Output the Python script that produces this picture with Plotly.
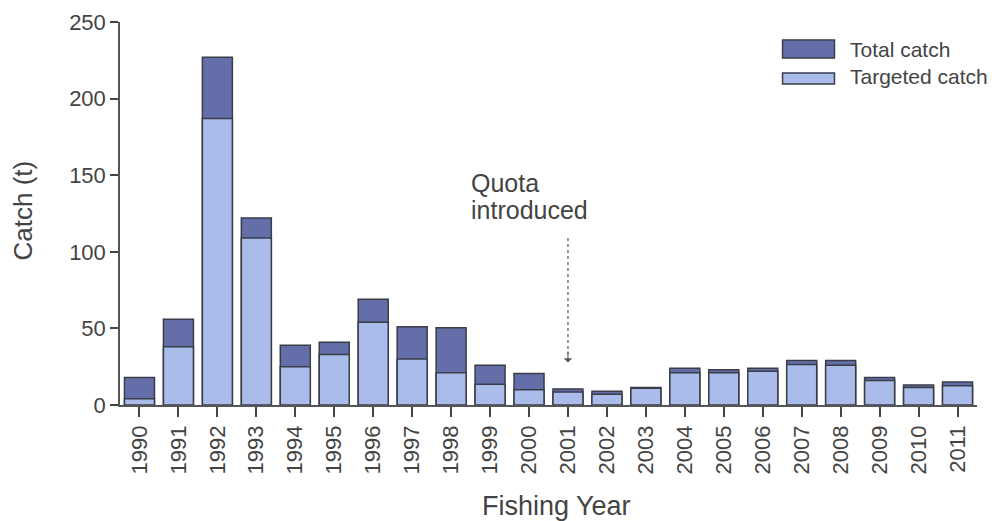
import plotly.graph_objects as go

years = [str(y) for y in range(1990, 2012)]
total_catch = [18, 56, 227, 122, 39, 41, 69, 51, 50.5, 26, 20.5, 10.5, 9, 11.5, 24, 23, 24, 29, 29, 18, 13, 15]
targeted_catch = [4, 38, 187, 109, 25, 33, 54, 30, 21, 13.5, 10, 8.5, 7, 11, 21, 21, 22, 26.5, 26, 16, 11.5, 12.5]
series_names = ["Total catch", "Targeted catch"]
series_colors = ["#646ea8", "#a9bcea"]
edge = "#3a3d48"
txt = "#444"

font = "Liberation Sans, Arial, sans-serif"
fig = go.Figure()
for name, vals, col in zip(series_names, [total_catch, targeted_catch], series_colors):
    fig.add_trace(go.Bar(x=years, y=vals, name=name, showlegend=False,
                         marker=dict(color=col, line=dict(color=edge, width=1.5))))

fig.update_layout(
    barmode="overlay", bargap=0.23,
    width=995, height=521,
    margin=dict(l=112, r=26, t=14, b=124),
    plot_bgcolor="white", paper_bgcolor="white",
    font=dict(family=font, size=21, color=txt),
    xaxis=dict(type="category", range=[-0.5, 21.5], showline=True, linecolor="#555", linewidth=1.5,
               ticks="outside", ticklen=10, tickcolor="#444", tickwidth=1.5, tickangle=-90,
               tickfont=dict(size=22), automargin=False, showgrid=False,
               ticklabeloverflow="allow"),
    yaxis=dict(range=[0, 250], dtick=50, showline=True, linecolor="#555", linewidth=1.5,
               ticks="outside", ticklen=8, tickcolor="#444", tickwidth=1.5, showgrid=False,
               zeroline=False, tickfont=dict(size=22), automargin=False,
               ticklabeloverflow="allow"),
)

# axis titles
fig.add_annotation(xref="paper", yref="paper", x=0.509, y=-0.2637, xanchor="center", yanchor="middle",
                   text="Fishing Year", showarrow=False, font=dict(size=27, color=txt))
fig.add_annotation(xref="paper", yref="paper", x=-0.1126, y=0.5065, xanchor="center", yanchor="middle",
                   text="Catch (t)", textangle=-90, showarrow=False, font=dict(size=26, color=txt))

# legend drawn manually (wide rectangular swatches)
leg_boxes = [(0.906, 0.953, 0.928), (0.8381, 0.8668, 0.8577)]
for (y0, y1, yt), name, col in zip(leg_boxes, series_names, series_colors):
    fig.add_shape(type="rect", xref="paper", yref="paper", x0=0.7731, x1=0.8337, y0=y0, y1=y1,
                  fillcolor=col, line=dict(color=edge, width=1.5))
    fig.add_annotation(xref="paper", yref="paper", x=0.8489, y=yt, xanchor="left", yanchor="middle",
                       text=name, showarrow=False, font=dict(size=21, color=txt))

# quota arrow
fig.add_shape(type="line", x0=11, x1=11, xref="x", y0=109, y1=33, yref="y",
              line=dict(color="#555", width=1.2, dash="dot"))
fig.add_annotation(x=11, y=27.8, ax=11, ay=36, xref="x", yref="y", axref="x", ayref="y",
                   showarrow=True, arrowhead=1, arrowsize=1.4, arrowwidth=1, arrowcolor="#555", text="")
fig.add_annotation(x=8.47, y=144.8, xref="x", yref="y", xanchor="left", yanchor="middle",
                   text="Quota", showarrow=False, font=dict(size=25, color=txt))
fig.add_annotation(x=8.47, y=127.2, xref="x", yref="y", xanchor="left", yanchor="middle",
                   text="introduced", showarrow=False, font=dict(size=25, color=txt))

fig.write_html("out.html")
